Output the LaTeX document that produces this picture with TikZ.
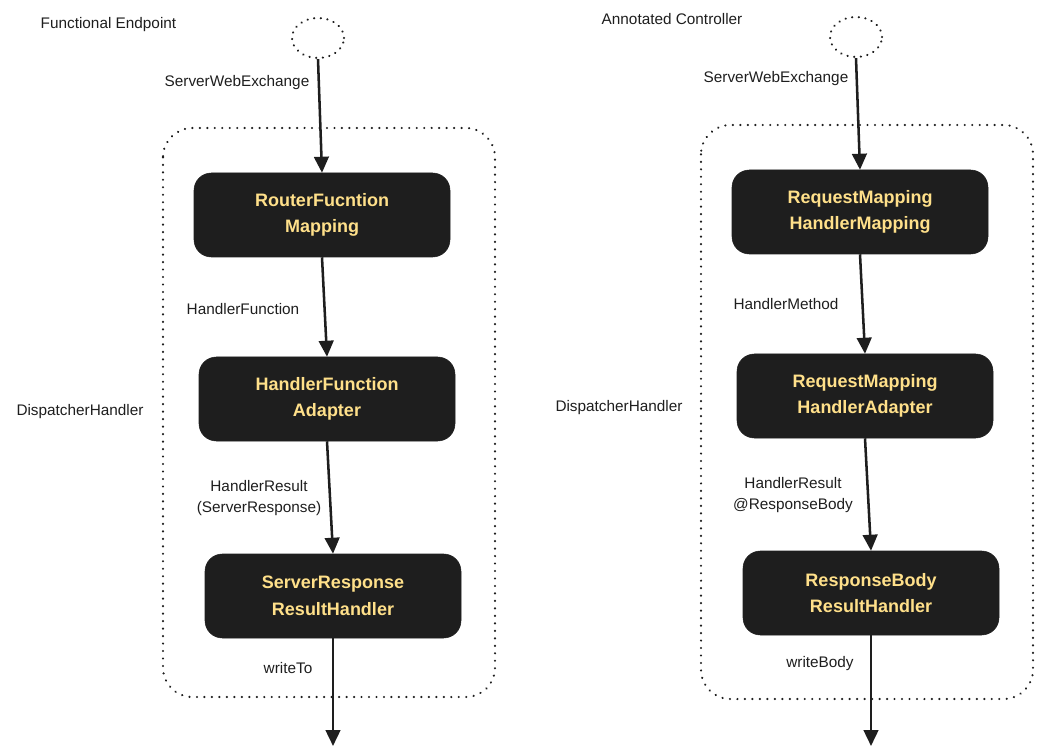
\documentclass[tikz,border=0pt]{standalone}
\usepackage{fontspec}
\setmainfont{Liberation Sans}
\usepackage{xcolor}
\usepackage{tikz}
\usetikzlibrary{arrows.meta,positioning,shapes.geometric}
\definecolor{boxfill}{HTML}{1E1E1E}
\definecolor{boxtext}{HTML}{FFE08A}
\tikzstyle{punkt}=[rectangle, rounded corners=13pt, fill=boxfill, draw=boxfill, minimum width=192pt, minimum height=63pt, text=boxtext, align=center, font=\fontsize{13.5}{20}\selectfont\bfseries]
\tikzstyle{frame}=[draw=boxfill, line width=1.8pt, line cap=round, dash pattern=on 0.01pt off 5.6pt, rounded corners=22pt]
\tikzstyle{hole}=[ellipse, draw=boxfill, line width=1.8pt, line cap=round, dash pattern=on 0.01pt off 5pt, minimum width=39pt, minimum height=30pt]
\tikzstyle{flow}=[draw=boxfill, line width=1.9pt, -{Triangle[width=11pt,length=12pt]}]
\tikzstyle{lbl}=[text=boxfill, align=center, font=\fontsize{11.5}{16}\selectfont]

\begin{document}
\begin{tikzpicture}[x=0.75pt, y=-0.75pt]
	\useasboundingbox (0,0) rectangle (1042,755);

	% functional endpoint
	\node[lbl, anchor=west] (fetitle) at (36,25) {Functional Endpoint};
	\draw[frame] (163,128) rectangle (495,697);
	\node[lbl] (fedisp) at (80,412) {DispatcherHandler};
	\node[hole] (fein) at (318,38) {};

	\node[punkt] (rfm) at (322,215) {RouterFucntion\\Mapping};
	\node[punkt] (hfa) at (327,399) {HandlerFunction\\Adapter};
	\node[punkt] (srh) at (333,596) {ServerResponse\\ResultHandler};
	\coordinate (feout) at (333,746);

	\draw[flow] (fein.south) -- (rfm.north);
	\draw[flow] (rfm.south) -- (hfa.north);
	\draw[flow] (hfa.south) -- (srh.north);
	\draw[flow] (srh.south) -- (feout);

	\node[lbl] at (237,83) {ServerWebExchange};
	\node[lbl] at (243,309) {HandlerFunction};
	\node[lbl] at (259,498) {HandlerResult\\(ServerResponse)};
	\node[lbl] at (288,668) {writeTo};

	% annotated controller
	\node[lbl, anchor=west] (actitle) at (597,19) {Annotated Controller};
	\draw[frame] (701,125) rectangle (1033,699);
	\node[lbl] (acdisp) at (619,408) {DispatcherHandler};
	\node[hole] (acin) at (856,37) {};

	\node[punkt] (rmhm) at (860,212) {RequestMapping\\HandlerMapping};
	\node[punkt] (rmha) at (865,396) {RequestMapping\\HandlerAdapter};
	\node[punkt] (rbrh) at (871,593) {ResponseBody\\ResultHandler};
	\coordinate (acout) at (871,746);

	\draw[flow] (acin.south) -- (rmhm.north);
	\draw[flow] (rmhm.south) -- (rmha.north);
	\draw[flow] (rmha.south) -- (rbrh.north);
	\draw[flow] (rbrh.south) -- (acout);

	\node[lbl] at (776,79) {ServerWebExchange};
	\node[lbl] at (786,304) {HandlerMethod};
	\node[lbl] at (793,495) {HandlerResult\\@ResponseBody};
	\node[lbl] at (820,664) {writeBody};
\end{tikzpicture}
\end{document}
